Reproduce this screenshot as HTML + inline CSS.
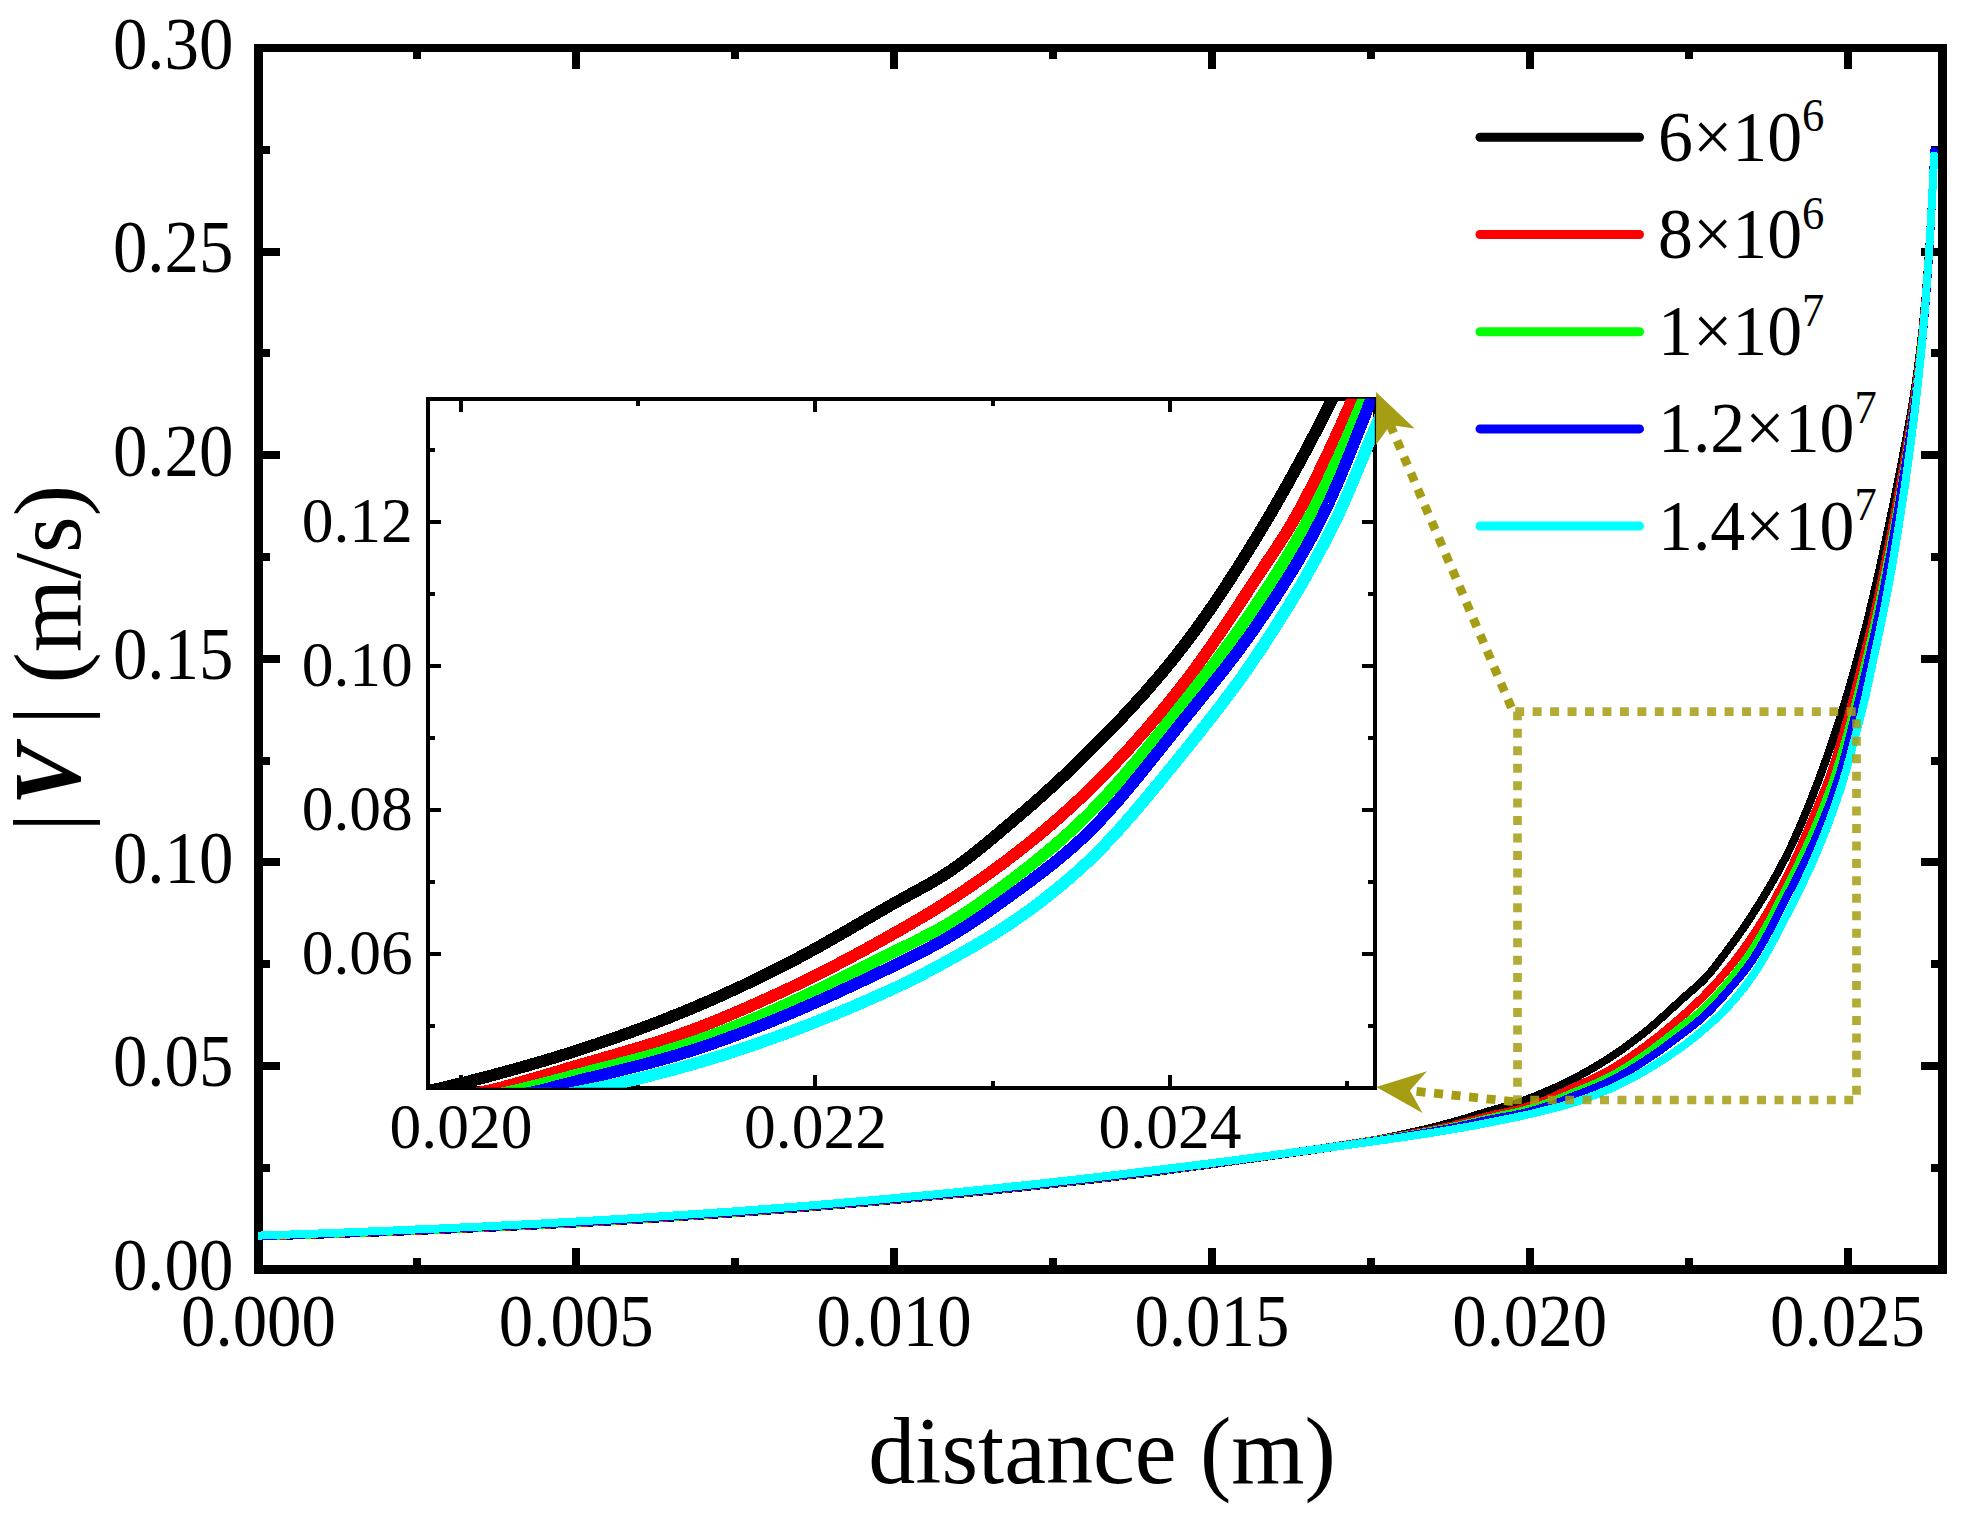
<!DOCTYPE html><html><head><meta charset="utf-8"><title>|V| versus distance</title>
<style>html,body{margin:0;padding:0;background:#fff}svg{display:block}text{font-family:"Liberation Serif","DejaVu Serif",serif;fill:#000}</style></head><body>
<svg width="1973" height="1528" viewBox="0 0 1973 1528">
<rect width="1973" height="1528" fill="#fff"/>
<defs><clipPath id="ci"><rect x="428" y="398.8" width="946.8" height="688.9"/></clipPath>
<clipPath id="cm"><rect x="258" y="48" width="1684.5" height="1221.5"/></clipPath></defs>
<g fill="#000" shape-rendering="crispEdges">
<rect x="254" y="44" width="9" height="1230"/><rect x="1938" y="44" width="9" height="1230"/>
<rect x="254" y="44" width="1693" height="8"/><rect x="254" y="1265" width="1693" height="9"/>
<rect x="413" y="52" width="8" height="7"/><rect x="413" y="1258" width="8" height="7"/>
<rect x="572" y="52" width="8" height="17"/><rect x="572" y="1248" width="8" height="17"/>
<rect x="731" y="52" width="8" height="7"/><rect x="731" y="1258" width="8" height="7"/>
<rect x="890" y="52" width="8" height="17"/><rect x="890" y="1248" width="8" height="17"/>
<rect x="1049" y="52" width="8" height="7"/><rect x="1049" y="1258" width="8" height="7"/>
<rect x="1208" y="52" width="8" height="17"/><rect x="1208" y="1248" width="8" height="17"/>
<rect x="1367" y="52" width="8" height="7"/><rect x="1367" y="1258" width="8" height="7"/>
<rect x="1526" y="52" width="8" height="17"/><rect x="1526" y="1248" width="8" height="17"/>
<rect x="1685" y="52" width="8" height="7"/><rect x="1685" y="1258" width="8" height="7"/>
<rect x="1844" y="52" width="8" height="17"/><rect x="1844" y="1248" width="8" height="17"/>
<rect x="263" y="1164" width="7" height="8"/><rect x="1931" y="1164" width="7" height="8"/>
<rect x="263" y="1062" width="17" height="8"/><rect x="1921" y="1062" width="17" height="8"/>
<rect x="263" y="960" width="7" height="8"/><rect x="1931" y="960" width="7" height="8"/>
<rect x="263" y="858" width="17" height="8"/><rect x="1921" y="858" width="17" height="8"/>
<rect x="263" y="757" width="7" height="8"/><rect x="1931" y="757" width="7" height="8"/>
<rect x="263" y="655" width="17" height="8"/><rect x="1921" y="655" width="17" height="8"/>
<rect x="263" y="553" width="7" height="8"/><rect x="1931" y="553" width="7" height="8"/>
<rect x="263" y="451" width="17" height="8"/><rect x="1921" y="451" width="17" height="8"/>
<rect x="263" y="349" width="7" height="8"/><rect x="1931" y="349" width="7" height="8"/>
<rect x="263" y="248" width="17" height="8"/><rect x="1921" y="248" width="17" height="8"/>
<rect x="263" y="146" width="7" height="8"/><rect x="1931" y="146" width="7" height="8"/>
</g>
<g fill="none" stroke-width="8" stroke-linejoin="round" stroke-linecap="round" clip-path="url(#cm)" shape-rendering="crispEdges">
<polyline stroke="#000000" points="258.5,1236.6 274.2,1236.1 289.9,1235.6 305.6,1235.1 321.3,1234.6 336.9,1234.0 352.6,1233.4 368.3,1232.9 384.0,1232.3 399.7,1231.7 415.4,1231.0 431.1,1230.4 446.8,1229.7 462.5,1229.0 478.1,1228.3 493.8,1227.6 509.5,1226.9 525.2,1226.1 540.9,1225.3 556.6,1224.5 572.3,1223.7 588.0,1222.8 603.7,1221.9 619.3,1221.0 635.0,1220.0 650.7,1219.0 666.4,1218.0 682.1,1216.9 697.8,1215.9 713.5,1214.8 729.2,1213.7 744.9,1212.5 760.5,1211.3 776.2,1210.1 791.9,1208.9 807.6,1207.6 823.3,1206.3 839.0,1205.0 854.7,1203.6 870.4,1202.3 886.1,1200.8 901.7,1199.4 917.4,1197.9 933.1,1196.4 948.8,1194.9 964.5,1193.4 980.2,1191.8 995.9,1190.2 1011.6,1188.5 1027.3,1186.9 1042.9,1185.2 1058.6,1183.4 1074.3,1181.7 1090.0,1179.9 1105.7,1178.1 1121.4,1176.2 1137.1,1174.3 1152.8,1172.4 1168.5,1170.3 1184.1,1168.1 1199.8,1166.0 1215.5,1163.8 1231.2,1161.6 1246.9,1159.4 1262.6,1157.2 1278.3,1155.0 1294.0,1152.8 1309.7,1150.6 1325.3,1148.3 1341.0,1145.9 1356.7,1143.2 1372.4,1140.4 1388.1,1137.4 1403.8,1134.1 1419.5,1130.6 1435.2,1126.8 1450.9,1122.7 1466.5,1118.1 1482.2,1113.2 1497.9,1108.6 1499.4,1108.2 1500.8,1107.8 1502.3,1107.4 1503.8,1107.0 1505.2,1106.6 1506.7,1106.1 1508.1,1105.7 1509.6,1105.3 1511.1,1104.8 1512.5,1104.4 1514.0,1103.9 1515.4,1103.5 1516.9,1103.0 1518.3,1102.5 1519.8,1102.0 1521.3,1101.5 1522.7,1101.0 1524.2,1100.5 1525.6,1099.9 1527.1,1099.4 1528.6,1098.8 1530.0,1098.2 1531.5,1097.6 1532.9,1097.1 1534.4,1096.5 1535.9,1095.9 1537.3,1095.3 1538.8,1094.7 1540.2,1094.1 1541.7,1093.5 1543.1,1092.9 1544.6,1092.2 1546.1,1091.6 1547.5,1091.0 1549.0,1090.3 1550.4,1089.7 1551.9,1089.0 1553.4,1088.4 1554.8,1087.7 1556.3,1087.1 1557.7,1086.4 1559.2,1085.7 1560.7,1085.0 1562.1,1084.3 1563.6,1083.6 1565.0,1082.9 1566.5,1082.2 1567.9,1081.5 1569.4,1080.8 1570.9,1080.0 1572.3,1079.3 1573.8,1078.5 1575.2,1077.8 1576.7,1077.0 1578.2,1076.3 1579.6,1075.5 1581.1,1074.7 1582.5,1073.9 1584.0,1073.1 1585.5,1072.3 1586.9,1071.5 1588.4,1070.7 1589.8,1069.8 1591.3,1069.0 1592.7,1068.1 1594.2,1067.3 1595.7,1066.4 1597.1,1065.6 1598.6,1064.7 1600.0,1063.8 1601.5,1062.9 1603.0,1062.0 1604.4,1061.1 1605.9,1060.2 1607.3,1059.3 1608.8,1058.3 1610.3,1057.4 1611.7,1056.4 1613.2,1055.5 1614.6,1054.5 1616.1,1053.5 1617.6,1052.5 1619.0,1051.5 1620.5,1050.5 1621.9,1049.5 1623.4,1048.4 1624.8,1047.4 1626.3,1046.3 1627.8,1045.3 1629.2,1044.2 1630.7,1043.1 1632.1,1042.0 1633.6,1040.9 1635.1,1039.8 1636.5,1038.7 1638.0,1037.6 1639.4,1036.4 1640.9,1035.3 1642.4,1034.2 1643.8,1033.0 1645.3,1031.8 1646.7,1030.7 1648.2,1029.5 1649.6,1028.3 1651.1,1027.0 1652.6,1025.8 1654.0,1024.5 1655.5,1023.3 1656.9,1022.0 1658.4,1020.7 1659.9,1019.4 1661.3,1018.1 1662.8,1016.8 1664.2,1015.5 1665.7,1014.2 1667.2,1012.9 1668.6,1011.5 1670.1,1010.2 1671.5,1008.8 1673.0,1007.5 1674.4,1006.2 1675.9,1004.8 1677.4,1003.5 1678.8,1002.1 1680.3,1000.8 1681.7,999.5 1683.2,998.1 1684.7,996.8 1686.1,995.5 1687.6,994.3 1689.0,993.0 1690.5,991.7 1692.0,990.5 1693.4,989.2 1694.9,988.0 1696.3,986.7 1697.8,985.4 1699.2,984.0 1700.7,982.7 1702.2,981.2 1703.6,979.8 1705.1,978.3 1706.5,976.7 1708.0,975.1 1709.5,973.4 1710.9,971.7 1712.4,969.9 1713.8,968.1 1715.3,966.2 1716.8,964.4 1718.2,962.5 1719.7,960.6 1721.1,958.6 1722.6,956.7 1724.1,954.8 1725.5,952.8 1727.0,950.9 1728.4,948.9 1729.9,947.0 1731.3,945.0 1732.8,943.0 1734.3,941.0 1735.7,939.0 1737.2,936.9 1738.6,934.9 1740.1,932.8 1741.6,930.7 1743.0,928.6 1744.5,926.4 1745.9,924.3 1747.4,922.1 1748.9,919.9 1750.3,917.7 1751.8,915.5 1753.2,913.2 1754.7,910.9 1756.1,908.6 1757.6,906.3 1759.1,904.0 1760.5,901.7 1762.0,899.3 1763.4,896.9 1764.9,894.6 1766.4,892.1 1767.8,889.7 1769.3,887.2 1770.7,884.7 1772.2,882.2 1773.7,879.7 1775.1,877.1 1776.6,874.5 1778.0,871.8 1779.5,869.1 1780.9,866.4 1782.4,863.6 1783.9,860.8 1785.3,858.0 1786.8,855.1 1788.2,852.1 1789.7,849.1 1791.2,846.1 1792.6,843.0 1794.1,839.8 1795.5,836.6 1797.0,833.3 1798.5,830.0 1799.9,826.6 1801.4,823.2 1802.8,819.8 1804.3,816.3 1805.7,812.7 1807.2,809.2 1808.7,805.5 1810.1,801.9 1811.6,798.2 1813.0,794.5 1814.5,790.7 1816.0,786.9 1817.4,783.1 1818.9,779.3 1820.3,775.4 1821.8,771.4 1823.3,767.4 1824.7,763.4 1826.2,759.3 1827.6,755.1 1829.1,750.9 1830.6,746.7 1832.0,742.4 1833.5,738.1 1834.9,733.7 1836.4,729.3 1837.8,724.8 1839.3,720.2 1840.8,715.6 1842.2,711.0 1843.7,706.3 1845.1,701.5 1846.6,696.6 1848.1,691.7 1849.5,686.7 1851.0,681.7 1852.4,676.6 1853.9,671.4 1855.4,666.2 1856.8,660.9 1858.3,655.5 1859.7,650.1 1861.2,644.6 1862.6,639.1 1864.1,633.5 1865.6,627.9 1867.0,622.1 1868.5,616.3 1869.9,610.3 1871.4,604.2 1872.9,598.1 1874.3,591.8 1875.8,585.5 1877.2,579.1 1878.7,572.6 1880.2,566.0 1881.6,559.4 1883.1,552.6 1884.5,545.9 1886.0,539.1 1887.4,532.3 1888.9,525.4 1890.4,518.5 1891.8,511.4 1893.3,504.4 1894.7,497.2 1896.2,490.0 1897.7,482.7 1899.1,475.4 1900.6,467.9 1902.0,460.5 1903.5,452.9 1905.0,445.3 1906.4,437.6 1907.9,429.8 1909.3,421.7 1910.8,413.5 1912.2,404.9 1913.7,395.9 1915.2,386.5 1916.6,376.5 1918.1,365.9 1919.5,354.5 1921.0,342.2 1922.5,328.9 1923.9,314.3 1925.4,298.2 1926.8,280.5 1928.3,260.8 1929.8,238.7 1931.2,213.8 1932.7,185.7 1934.1,153.8"/>
<polyline stroke="#ff0000" points="258.5,1236.4 274.2,1235.9 289.9,1235.4 305.6,1234.9 321.3,1234.3 336.9,1233.8 352.6,1233.2 368.3,1232.6 384.0,1232.0 399.7,1231.4 415.4,1230.8 431.1,1230.1 446.8,1229.4 462.5,1228.7 478.1,1228.0 493.8,1227.3 509.5,1226.6 525.2,1225.8 540.9,1225.0 556.6,1224.2 572.3,1223.4 588.0,1222.5 603.7,1221.5 619.3,1220.6 635.0,1219.6 650.7,1218.6 666.4,1217.6 682.1,1216.6 697.8,1215.5 713.5,1214.4 729.2,1213.3 744.9,1212.1 760.5,1211.0 776.2,1209.7 791.9,1208.5 807.6,1207.2 823.3,1205.9 839.0,1204.6 854.7,1203.3 870.4,1201.9 886.1,1200.5 901.7,1199.0 917.4,1197.6 933.1,1196.1 948.8,1194.6 964.5,1193.0 980.2,1191.4 995.9,1189.8 1011.6,1188.2 1027.3,1186.5 1042.9,1184.8 1058.6,1183.1 1074.3,1181.3 1090.0,1179.5 1105.7,1177.7 1121.4,1175.9 1137.1,1174.0 1152.8,1172.0 1168.5,1169.9 1184.1,1167.8 1199.8,1165.7 1215.5,1163.5 1231.2,1161.4 1246.9,1159.1 1262.6,1156.9 1278.3,1154.6 1294.0,1152.3 1309.7,1150.0 1325.3,1147.7 1341.0,1145.3 1356.7,1142.9 1372.4,1140.4 1388.1,1137.8 1403.8,1135.1 1419.5,1132.2 1435.2,1129.1 1450.9,1125.8 1466.5,1121.8 1482.2,1117.6 1497.9,1113.8 1499.4,1113.5 1500.8,1113.2 1502.3,1112.9 1503.8,1112.6 1505.2,1112.3 1506.7,1112.0 1508.1,1111.7 1509.6,1111.4 1511.1,1111.1 1512.5,1110.7 1514.0,1110.4 1515.4,1110.0 1516.9,1109.7 1518.3,1109.3 1519.8,1108.9 1521.3,1108.5 1522.7,1108.1 1524.2,1107.7 1525.6,1107.2 1527.1,1106.8 1528.6,1106.3 1530.0,1105.9 1531.5,1105.4 1532.9,1104.9 1534.4,1104.4 1535.9,1103.9 1537.3,1103.4 1538.8,1102.8 1540.2,1102.3 1541.7,1101.7 1543.1,1101.1 1544.6,1100.5 1546.1,1099.9 1547.5,1099.3 1549.0,1098.7 1550.4,1098.0 1551.9,1097.4 1553.4,1096.7 1554.8,1096.1 1556.3,1095.4 1557.7,1094.7 1559.2,1094.0 1560.7,1093.3 1562.1,1092.7 1563.6,1092.0 1565.0,1091.3 1566.5,1090.6 1567.9,1089.9 1569.4,1089.2 1570.9,1088.6 1572.3,1087.9 1573.8,1087.2 1575.2,1086.5 1576.7,1085.9 1578.2,1085.2 1579.6,1084.6 1581.1,1083.9 1582.5,1083.2 1584.0,1082.6 1585.5,1081.9 1586.9,1081.3 1588.4,1080.6 1589.8,1079.9 1591.3,1079.2 1592.7,1078.5 1594.2,1077.8 1595.7,1077.1 1597.1,1076.4 1598.6,1075.7 1600.0,1075.0 1601.5,1074.3 1603.0,1073.5 1604.4,1072.7 1605.9,1072.0 1607.3,1071.2 1608.8,1070.4 1610.3,1069.5 1611.7,1068.7 1613.2,1067.8 1614.6,1067.0 1616.1,1066.1 1617.6,1065.2 1619.0,1064.3 1620.5,1063.3 1621.9,1062.4 1623.4,1061.5 1624.8,1060.5 1626.3,1059.5 1627.8,1058.6 1629.2,1057.6 1630.7,1056.6 1632.1,1055.6 1633.6,1054.5 1635.1,1053.5 1636.5,1052.5 1638.0,1051.4 1639.4,1050.4 1640.9,1049.3 1642.4,1048.3 1643.8,1047.2 1645.3,1046.2 1646.7,1045.1 1648.2,1044.0 1649.6,1042.9 1651.1,1041.8 1652.6,1040.7 1654.0,1039.6 1655.5,1038.4 1656.9,1037.3 1658.4,1036.1 1659.9,1035.0 1661.3,1033.8 1662.8,1032.6 1664.2,1031.4 1665.7,1030.2 1667.2,1029.0 1668.6,1027.8 1670.1,1026.5 1671.5,1025.3 1673.0,1024.1 1674.4,1022.8 1675.9,1021.5 1677.4,1020.3 1678.8,1019.0 1680.3,1017.7 1681.7,1016.4 1683.2,1015.2 1684.7,1013.9 1686.1,1012.6 1687.6,1011.2 1689.0,1009.9 1690.5,1008.6 1692.0,1007.3 1693.4,1005.9 1694.9,1004.6 1696.3,1003.2 1697.8,1001.8 1699.2,1000.4 1700.7,999.0 1702.2,997.6 1703.6,996.1 1705.1,994.6 1706.5,993.1 1708.0,991.6 1709.5,990.1 1710.9,988.6 1712.4,987.0 1713.8,985.4 1715.3,983.8 1716.8,982.2 1718.2,980.6 1719.7,978.9 1721.1,977.3 1722.6,975.6 1724.1,973.9 1725.5,972.1 1727.0,970.4 1728.4,968.6 1729.9,966.8 1731.3,965.0 1732.8,963.2 1734.3,961.3 1735.7,959.4 1737.2,957.5 1738.6,955.6 1740.1,953.7 1741.6,951.7 1743.0,949.7 1744.5,947.7 1745.9,945.6 1747.4,943.6 1748.9,941.5 1750.3,939.3 1751.8,937.2 1753.2,935.0 1754.7,932.8 1756.1,930.5 1757.6,928.2 1759.1,925.9 1760.5,923.6 1762.0,921.2 1763.4,918.8 1764.9,916.4 1766.4,914.0 1767.8,911.5 1769.3,909.0 1770.7,906.4 1772.2,903.9 1773.7,901.3 1775.1,898.6 1776.6,896.0 1778.0,893.3 1779.5,890.5 1780.9,887.8 1782.4,885.0 1783.9,882.2 1785.3,879.3 1786.8,876.4 1788.2,873.5 1789.7,870.5 1791.2,867.5 1792.6,864.4 1794.1,861.3 1795.5,858.1 1797.0,854.8 1798.5,851.6 1799.9,848.2 1801.4,844.9 1802.8,841.5 1804.3,838.1 1805.7,834.6 1807.2,831.2 1808.7,827.7 1810.1,824.2 1811.6,820.7 1813.0,817.2 1814.5,813.6 1816.0,810.1 1817.4,806.6 1818.9,803.2 1820.3,799.8 1821.8,796.3 1823.3,792.8 1824.7,789.3 1826.2,785.6 1827.6,781.7 1829.1,777.7 1830.6,773.6 1832.0,769.3 1833.5,764.9 1834.9,760.4 1836.4,755.8 1837.8,751.1 1839.3,746.3 1840.8,741.5 1842.2,736.5 1843.7,731.5 1845.1,726.4 1846.6,721.3 1848.1,716.2 1849.5,711.0 1851.0,705.8 1852.4,700.5 1853.9,695.1 1855.4,689.7 1856.8,684.1 1858.3,678.5 1859.7,672.8 1861.2,667.1 1862.6,661.3 1864.1,655.5 1865.6,649.6 1867.0,643.6 1868.5,637.7 1869.9,631.6 1871.4,625.5 1872.9,619.3 1874.3,613.0 1875.8,606.5 1877.2,600.0 1878.7,593.3 1880.2,586.5 1881.6,579.6 1883.1,572.6 1884.5,565.4 1886.0,558.2 1887.4,550.9 1888.9,543.5 1890.4,536.1 1891.8,528.5 1893.3,520.8 1894.7,513.1 1896.2,505.2 1897.7,497.3 1899.1,489.2 1900.6,481.1 1902.0,472.8 1903.5,464.5 1905.0,456.1 1906.4,447.6 1907.9,439.0 1909.3,430.2 1910.8,421.2 1912.2,412.0 1913.7,402.3 1915.2,392.3 1916.6,381.8 1918.1,370.6 1919.5,358.7 1921.0,345.9 1922.5,332.1 1923.9,317.1 1925.4,300.7 1926.8,282.6 1928.3,262.5 1929.8,240.0 1931.2,214.8 1932.7,186.4 1934.1,154.1"/>
<polyline stroke="#00ff00" points="258.5,1236.3 274.2,1235.7 289.9,1235.2 305.6,1234.7 321.3,1234.1 336.9,1233.6 352.6,1233.0 368.3,1232.4 384.0,1231.8 399.7,1231.2 415.4,1230.5 431.1,1229.9 446.8,1229.2 462.5,1228.5 478.1,1227.8 493.8,1227.0 509.5,1226.3 525.2,1225.5 540.9,1224.7 556.6,1223.9 572.3,1223.0 588.0,1222.1 603.7,1221.2 619.3,1220.3 635.0,1219.3 650.7,1218.3 666.4,1217.3 682.1,1216.3 697.8,1215.2 713.5,1214.1 729.2,1213.0 744.9,1211.8 760.5,1210.6 776.2,1209.4 791.9,1208.2 807.6,1206.9 823.3,1205.6 839.0,1204.3 854.7,1202.9 870.4,1201.6 886.1,1200.2 901.7,1198.7 917.4,1197.3 933.1,1195.8 948.8,1194.2 964.5,1192.7 980.2,1191.1 995.9,1189.5 1011.6,1187.8 1027.3,1186.2 1042.9,1184.5 1058.6,1182.7 1074.3,1181.0 1090.0,1179.2 1105.7,1177.4 1121.4,1175.5 1137.1,1173.7 1152.8,1171.7 1168.5,1169.7 1184.1,1167.6 1199.8,1165.5 1215.5,1163.3 1231.2,1161.2 1246.9,1159.0 1262.6,1156.8 1278.3,1154.6 1294.0,1152.3 1309.7,1150.1 1325.3,1147.8 1341.0,1145.6 1356.7,1143.2 1372.4,1140.8 1388.1,1138.3 1403.8,1135.8 1419.5,1133.1 1435.2,1130.2 1450.9,1127.2 1466.5,1123.6 1482.2,1119.8 1497.9,1116.2 1499.4,1115.8 1500.8,1115.5 1502.3,1115.2 1503.8,1114.9 1505.2,1114.6 1506.7,1114.3 1508.1,1114.0 1509.6,1113.7 1511.1,1113.4 1512.5,1113.1 1514.0,1112.8 1515.4,1112.5 1516.9,1112.1 1518.3,1111.8 1519.8,1111.4 1521.3,1111.0 1522.7,1110.6 1524.2,1110.2 1525.6,1109.9 1527.1,1109.4 1528.6,1109.0 1530.0,1108.6 1531.5,1108.2 1532.9,1107.8 1534.4,1107.3 1535.9,1106.9 1537.3,1106.4 1538.8,1105.9 1540.2,1105.5 1541.7,1105.0 1543.1,1104.5 1544.6,1104.0 1546.1,1103.5 1547.5,1103.0 1549.0,1102.5 1550.4,1102.0 1551.9,1101.4 1553.4,1100.9 1554.8,1100.3 1556.3,1099.7 1557.7,1099.1 1559.2,1098.5 1560.7,1097.9 1562.1,1097.3 1563.6,1096.7 1565.0,1096.1 1566.5,1095.5 1567.9,1094.9 1569.4,1094.2 1570.9,1093.6 1572.3,1093.0 1573.8,1092.4 1575.2,1091.8 1576.7,1091.2 1578.2,1090.6 1579.6,1090.1 1581.1,1089.5 1582.5,1088.9 1584.0,1088.3 1585.5,1087.7 1586.9,1087.1 1588.4,1086.5 1589.8,1085.9 1591.3,1085.3 1592.7,1084.7 1594.2,1084.0 1595.7,1083.4 1597.1,1082.8 1598.6,1082.1 1600.0,1081.5 1601.5,1080.8 1603.0,1080.1 1604.4,1079.4 1605.9,1078.7 1607.3,1078.0 1608.8,1077.2 1610.3,1076.5 1611.7,1075.7 1613.2,1074.9 1614.6,1074.1 1616.1,1073.3 1617.6,1072.5 1619.0,1071.6 1620.5,1070.8 1621.9,1069.9 1623.4,1069.0 1624.8,1068.1 1626.3,1067.2 1627.8,1066.3 1629.2,1065.4 1630.7,1064.5 1632.1,1063.5 1633.6,1062.5 1635.1,1061.6 1636.5,1060.6 1638.0,1059.6 1639.4,1058.6 1640.9,1057.6 1642.4,1056.6 1643.8,1055.5 1645.3,1054.5 1646.7,1053.4 1648.2,1052.4 1649.6,1051.3 1651.1,1050.3 1652.6,1049.2 1654.0,1048.1 1655.5,1047.0 1656.9,1045.9 1658.4,1044.8 1659.9,1043.7 1661.3,1042.6 1662.8,1041.4 1664.2,1040.3 1665.7,1039.2 1667.2,1038.0 1668.6,1036.9 1670.1,1035.8 1671.5,1034.6 1673.0,1033.5 1674.4,1032.3 1675.9,1031.2 1677.4,1030.0 1678.8,1028.9 1680.3,1027.7 1681.7,1026.6 1683.2,1025.4 1684.7,1024.3 1686.1,1023.1 1687.6,1022.0 1689.0,1020.9 1690.5,1019.7 1692.0,1018.6 1693.4,1017.4 1694.9,1016.3 1696.3,1015.1 1697.8,1013.9 1699.2,1012.6 1700.7,1011.4 1702.2,1010.1 1703.6,1008.8 1705.1,1007.4 1706.5,1006.0 1708.0,1004.6 1709.5,1003.1 1710.9,1001.6 1712.4,1000.1 1713.8,998.6 1715.3,997.0 1716.8,995.4 1718.2,993.7 1719.7,992.1 1721.1,990.4 1722.6,988.7 1724.1,987.0 1725.5,985.2 1727.0,983.5 1728.4,981.7 1729.9,980.0 1731.3,978.2 1732.8,976.4 1734.3,974.6 1735.7,972.7 1737.2,970.9 1738.6,969.0 1740.1,967.0 1741.6,965.1 1743.0,963.1 1744.5,961.1 1745.9,959.1 1747.4,957.0 1748.9,954.9 1750.3,952.8 1751.8,950.6 1753.2,948.3 1754.7,946.1 1756.1,943.7 1757.6,941.4 1759.1,939.0 1760.5,936.5 1762.0,934.0 1763.4,931.5 1764.9,928.9 1766.4,926.3 1767.8,923.6 1769.3,921.0 1770.7,918.3 1772.2,915.5 1773.7,912.8 1775.1,910.0 1776.6,907.2 1778.0,904.3 1779.5,901.5 1780.9,898.6 1782.4,895.8 1783.9,892.9 1785.3,890.0 1786.8,887.1 1788.2,884.2 1789.7,881.3 1791.2,878.4 1792.6,875.5 1794.1,872.5 1795.5,869.6 1797.0,866.6 1798.5,863.6 1799.9,860.6 1801.4,857.5 1802.8,854.4 1804.3,851.3 1805.7,848.2 1807.2,845.0 1808.7,841.8 1810.1,838.5 1811.6,835.2 1813.0,831.9 1814.5,828.5 1816.0,825.1 1817.4,821.6 1818.9,818.0 1820.3,814.5 1821.8,810.9 1823.3,807.2 1824.7,803.5 1826.2,799.7 1827.6,795.9 1829.1,791.9 1830.6,787.9 1832.0,783.8 1833.5,779.5 1834.9,775.1 1836.4,770.7 1837.8,766.1 1839.3,761.3 1840.8,756.5 1842.2,751.6 1843.7,746.6 1845.1,741.5 1846.6,736.3 1848.1,731.1 1849.5,725.8 1851.0,720.4 1852.4,715.0 1853.9,709.5 1855.4,704.0 1856.8,698.3 1858.3,692.5 1859.7,686.7 1861.2,680.8 1862.6,674.8 1864.1,668.7 1865.6,662.6 1867.0,656.4 1868.5,650.2 1869.9,644.0 1871.4,637.7 1872.9,631.4 1874.3,625.0 1875.8,618.4 1877.2,611.8 1878.7,605.0 1880.2,598.2 1881.6,591.2 1883.1,584.0 1884.5,576.8 1886.0,569.4 1887.4,562.0 1888.9,554.5 1890.4,546.9 1891.8,539.2 1893.3,531.3 1894.7,523.4 1896.2,515.3 1897.7,507.2 1899.1,498.9 1900.6,490.5 1902.0,482.0 1903.5,473.3 1905.0,464.6 1906.4,455.8 1907.9,446.8 1909.3,437.6 1910.8,428.3 1912.2,418.7 1913.7,408.7 1915.2,398.3 1916.6,387.4 1918.1,375.9 1919.5,363.6 1921.0,350.4 1922.5,336.2 1923.9,320.7 1925.4,303.7 1926.8,285.0 1928.3,264.3 1929.8,241.1 1931.2,215.1 1932.7,185.7 1934.1,152.3"/>
<polyline stroke="#0000ff" points="258.5,1236.1 274.2,1235.6 289.9,1235.1 305.6,1234.5 321.3,1234.0 336.9,1233.4 352.6,1232.8 368.3,1232.2 384.0,1231.6 399.7,1231.0 415.4,1230.3 431.1,1229.6 446.8,1229.0 462.5,1228.2 478.1,1227.5 493.8,1226.8 509.5,1226.0 525.2,1225.2 540.9,1224.4 556.6,1223.6 572.3,1222.7 588.0,1221.9 603.7,1220.9 619.3,1220.0 635.0,1219.0 650.7,1218.0 666.4,1217.0 682.1,1216.0 697.8,1214.9 713.5,1213.8 729.2,1212.7 744.9,1211.5 760.5,1210.3 776.2,1209.1 791.9,1207.9 807.6,1206.6 823.3,1205.3 839.0,1204.0 854.7,1202.7 870.4,1201.3 886.1,1199.9 901.7,1198.4 917.4,1197.0 933.1,1195.5 948.8,1193.9 964.5,1192.4 980.2,1190.8 995.9,1189.2 1011.6,1187.6 1027.3,1185.9 1042.9,1184.2 1058.6,1182.5 1074.3,1180.7 1090.0,1178.9 1105.7,1177.1 1121.4,1175.2 1137.1,1173.4 1152.8,1171.4 1168.5,1169.4 1184.1,1167.4 1199.8,1165.3 1215.5,1163.2 1231.2,1161.0 1246.9,1158.9 1262.6,1156.7 1278.3,1154.5 1294.0,1152.3 1309.7,1150.1 1325.3,1147.9 1341.0,1145.7 1356.7,1143.5 1372.4,1141.2 1388.1,1138.8 1403.8,1136.3 1419.5,1133.7 1435.2,1131.0 1450.9,1128.1 1466.5,1124.7 1482.2,1121.2 1497.9,1118.0 1499.4,1117.8 1500.8,1117.5 1502.3,1117.3 1503.8,1117.0 1505.2,1116.8 1506.7,1116.5 1508.1,1116.3 1509.6,1116.0 1511.1,1115.7 1512.5,1115.4 1514.0,1115.1 1515.4,1114.8 1516.9,1114.5 1518.3,1114.2 1519.8,1113.9 1521.3,1113.5 1522.7,1113.2 1524.2,1112.8 1525.6,1112.5 1527.1,1112.1 1528.6,1111.7 1530.0,1111.3 1531.5,1110.9 1532.9,1110.5 1534.4,1110.1 1535.9,1109.7 1537.3,1109.2 1538.8,1108.8 1540.2,1108.4 1541.7,1107.9 1543.1,1107.5 1544.6,1107.0 1546.1,1106.5 1547.5,1106.0 1549.0,1105.6 1550.4,1105.1 1551.9,1104.6 1553.4,1104.1 1554.8,1103.6 1556.3,1103.1 1557.7,1102.5 1559.2,1102.0 1560.7,1101.4 1562.1,1100.8 1563.6,1100.2 1565.0,1099.6 1566.5,1099.0 1567.9,1098.4 1569.4,1097.8 1570.9,1097.2 1572.3,1096.6 1573.8,1096.1 1575.2,1095.5 1576.7,1094.9 1578.2,1094.3 1579.6,1093.8 1581.1,1093.2 1582.5,1092.6 1584.0,1092.1 1585.5,1091.5 1586.9,1090.9 1588.4,1090.4 1589.8,1089.8 1591.3,1089.2 1592.7,1088.6 1594.2,1088.0 1595.7,1087.4 1597.1,1086.8 1598.6,1086.2 1600.0,1085.6 1601.5,1085.0 1603.0,1084.3 1604.4,1083.7 1605.9,1083.0 1607.3,1082.3 1608.8,1081.6 1610.3,1080.9 1611.7,1080.1 1613.2,1079.4 1614.6,1078.7 1616.1,1077.9 1617.6,1077.1 1619.0,1076.3 1620.5,1075.5 1621.9,1074.7 1623.4,1073.9 1624.8,1073.1 1626.3,1072.3 1627.8,1071.4 1629.2,1070.6 1630.7,1069.7 1632.1,1068.8 1633.6,1067.9 1635.1,1067.0 1636.5,1066.1 1638.0,1065.2 1639.4,1064.3 1640.9,1063.3 1642.4,1062.4 1643.8,1061.5 1645.3,1060.5 1646.7,1059.5 1648.2,1058.5 1649.6,1057.6 1651.1,1056.6 1652.6,1055.6 1654.0,1054.6 1655.5,1053.5 1656.9,1052.5 1658.4,1051.5 1659.9,1050.5 1661.3,1049.4 1662.8,1048.4 1664.2,1047.3 1665.7,1046.3 1667.2,1045.2 1668.6,1044.1 1670.1,1043.0 1671.5,1042.0 1673.0,1040.9 1674.4,1039.8 1675.9,1038.7 1677.4,1037.6 1678.8,1036.5 1680.3,1035.4 1681.7,1034.3 1683.2,1033.2 1684.7,1032.0 1686.1,1030.9 1687.6,1029.8 1689.0,1028.7 1690.5,1027.5 1692.0,1026.4 1693.4,1025.2 1694.9,1024.0 1696.3,1022.8 1697.8,1021.6 1699.2,1020.4 1700.7,1019.1 1702.2,1017.8 1703.6,1016.5 1705.1,1015.2 1706.5,1013.8 1708.0,1012.4 1709.5,1011.0 1710.9,1009.5 1712.4,1008.0 1713.8,1006.5 1715.3,1004.9 1716.8,1003.4 1718.2,1001.8 1719.7,1000.2 1721.1,998.6 1722.6,996.9 1724.1,995.3 1725.5,993.6 1727.0,991.9 1728.4,990.3 1729.9,988.6 1731.3,986.9 1732.8,985.2 1734.3,983.5 1735.7,981.8 1737.2,980.0 1738.6,978.3 1740.1,976.5 1741.6,974.7 1743.0,972.8 1744.5,970.9 1745.9,969.0 1747.4,967.0 1748.9,965.0 1750.3,963.0 1751.8,960.9 1753.2,958.7 1754.7,956.5 1756.1,954.2 1757.6,951.8 1759.1,949.4 1760.5,946.9 1762.0,944.4 1763.4,941.8 1764.9,939.2 1766.4,936.6 1767.8,933.9 1769.3,931.1 1770.7,928.4 1772.2,925.6 1773.7,922.7 1775.1,919.9 1776.6,917.0 1778.0,914.1 1779.5,911.3 1780.9,908.4 1782.4,905.5 1783.9,902.6 1785.3,899.7 1786.8,896.8 1788.2,894.0 1789.7,891.1 1791.2,888.3 1792.6,885.4 1794.1,882.6 1795.5,879.8 1797.0,876.9 1798.5,874.0 1799.9,871.2 1801.4,868.2 1802.8,865.3 1804.3,862.4 1805.7,859.4 1807.2,856.3 1808.7,853.3 1810.1,850.2 1811.6,847.0 1813.0,843.8 1814.5,840.5 1816.0,837.1 1817.4,833.7 1818.9,830.3 1820.3,826.9 1821.8,823.4 1823.3,819.8 1824.7,816.2 1826.2,812.6 1827.6,808.8 1829.1,805.0 1830.6,801.1 1832.0,797.1 1833.5,793.0 1834.9,788.8 1836.4,784.5 1837.8,780.0 1839.3,775.3 1840.8,770.4 1842.2,765.4 1843.7,760.1 1845.1,754.7 1846.6,749.2 1848.1,743.6 1849.5,737.8 1851.0,732.1 1852.4,726.2 1853.9,720.3 1855.4,714.5 1856.8,708.6 1858.3,702.7 1859.7,696.8 1861.2,690.8 1862.6,684.7 1864.1,678.6 1865.6,672.4 1867.0,666.1 1868.5,659.9 1869.9,653.7 1871.4,647.4 1872.9,641.0 1874.3,634.5 1875.8,627.9 1877.2,621.2 1878.7,614.3 1880.2,607.2 1881.6,600.0 1883.1,592.6 1884.5,585.0 1886.0,577.3 1887.4,569.5 1888.9,561.6 1890.4,553.6 1891.8,545.5 1893.3,537.3 1894.7,528.9 1896.2,520.5 1897.7,511.9 1899.1,503.3 1900.6,494.5 1902.0,485.6 1903.5,476.7 1905.0,467.7 1906.4,458.6 1907.9,449.4 1909.3,440.1 1910.8,430.6 1912.2,421.0 1913.7,411.0 1915.2,400.7 1916.6,389.9 1918.1,378.5 1919.5,366.4 1921.0,353.3 1922.5,339.2 1923.9,323.8 1925.4,306.8 1926.8,288.0 1928.3,267.0 1929.8,243.4 1931.2,216.6 1932.7,186.1 1934.1,151.0"/>
<polyline stroke="#00ffff" points="258.5,1235.6 274.2,1235.1 289.9,1234.5 305.6,1233.9 321.3,1233.4 336.9,1232.8 352.6,1232.2 368.3,1231.5 384.0,1230.9 399.7,1230.2 415.4,1229.5 431.1,1228.9 446.8,1228.1 462.5,1227.4 478.1,1226.7 493.8,1225.9 509.5,1225.1 525.2,1224.3 540.9,1223.5 556.6,1222.6 572.3,1221.7 588.0,1220.8 603.7,1219.9 619.3,1219.0 635.0,1218.0 650.7,1217.0 666.4,1216.0 682.1,1214.9 697.8,1213.9 713.5,1212.8 729.2,1211.7 744.9,1210.5 760.5,1209.3 776.2,1208.1 791.9,1206.9 807.6,1205.6 823.3,1204.3 839.0,1203.0 854.7,1201.6 870.4,1200.3 886.1,1198.9 901.7,1197.4 917.4,1195.9 933.1,1194.5 948.8,1192.9 964.5,1191.4 980.2,1189.8 995.9,1188.2 1011.6,1186.5 1027.3,1184.9 1042.9,1183.2 1058.6,1181.4 1074.3,1179.7 1090.0,1177.9 1105.7,1176.1 1121.4,1174.2 1137.1,1172.3 1152.8,1170.4 1168.5,1168.5 1184.1,1166.6 1199.8,1164.6 1215.5,1162.6 1231.2,1160.6 1246.9,1158.5 1262.6,1156.5 1278.3,1154.4 1294.0,1152.3 1309.7,1150.2 1325.3,1148.1 1341.0,1145.9 1356.7,1143.8 1372.4,1141.6 1388.1,1139.4 1403.8,1137.1 1419.5,1134.7 1435.2,1132.3 1450.9,1129.7 1466.5,1127.0 1482.2,1124.0 1497.9,1120.9 1499.4,1120.6 1500.8,1120.3 1502.3,1120.0 1503.8,1119.7 1505.2,1119.4 1506.7,1119.1 1508.1,1118.8 1509.6,1118.5 1511.1,1118.2 1512.5,1117.9 1514.0,1117.6 1515.4,1117.3 1516.9,1117.0 1518.3,1116.7 1519.8,1116.3 1521.3,1116.0 1522.7,1115.7 1524.2,1115.4 1525.6,1115.0 1527.1,1114.7 1528.6,1114.4 1530.0,1114.0 1531.5,1113.7 1532.9,1113.4 1534.4,1113.0 1535.9,1112.7 1537.3,1112.4 1538.8,1112.0 1540.2,1111.7 1541.7,1111.3 1543.1,1111.0 1544.6,1110.6 1546.1,1110.2 1547.5,1109.9 1549.0,1109.5 1550.4,1109.1 1551.9,1108.8 1553.4,1108.4 1554.8,1108.0 1556.3,1107.6 1557.7,1107.2 1559.2,1106.8 1560.7,1106.4 1562.1,1106.0 1563.6,1105.6 1565.0,1105.2 1566.5,1104.7 1567.9,1104.3 1569.4,1103.9 1570.9,1103.4 1572.3,1103.0 1573.8,1102.5 1575.2,1102.0 1576.7,1101.6 1578.2,1101.1 1579.6,1100.6 1581.1,1100.1 1582.5,1099.6 1584.0,1099.1 1585.5,1098.6 1586.9,1098.1 1588.4,1097.5 1589.8,1097.0 1591.3,1096.4 1592.7,1095.9 1594.2,1095.3 1595.7,1094.8 1597.1,1094.2 1598.6,1093.6 1600.0,1093.0 1601.5,1092.4 1603.0,1091.8 1604.4,1091.2 1605.9,1090.6 1607.3,1089.9 1608.8,1089.3 1610.3,1088.7 1611.7,1088.0 1613.2,1087.4 1614.6,1086.7 1616.1,1086.0 1617.6,1085.3 1619.0,1084.6 1620.5,1083.9 1621.9,1083.2 1623.4,1082.5 1624.8,1081.8 1626.3,1081.0 1627.8,1080.3 1629.2,1079.5 1630.7,1078.7 1632.1,1078.0 1633.6,1077.2 1635.1,1076.4 1636.5,1075.6 1638.0,1074.8 1639.4,1074.0 1640.9,1073.2 1642.4,1072.3 1643.8,1071.5 1645.3,1070.6 1646.7,1069.8 1648.2,1068.9 1649.6,1068.1 1651.1,1067.2 1652.6,1066.3 1654.0,1065.4 1655.5,1064.5 1656.9,1063.6 1658.4,1062.7 1659.9,1061.7 1661.3,1060.8 1662.8,1059.9 1664.2,1058.9 1665.7,1058.0 1667.2,1057.0 1668.6,1056.0 1670.1,1055.0 1671.5,1054.1 1673.0,1053.1 1674.4,1052.1 1675.9,1051.1 1677.4,1050.0 1678.8,1049.0 1680.3,1048.0 1681.7,1047.0 1683.2,1045.9 1684.7,1044.9 1686.1,1043.8 1687.6,1042.7 1689.0,1041.6 1690.5,1040.5 1692.0,1039.3 1693.4,1038.1 1694.9,1037.0 1696.3,1035.8 1697.8,1034.6 1699.2,1033.3 1700.7,1032.1 1702.2,1030.9 1703.6,1029.6 1705.1,1028.3 1706.5,1027.1 1708.0,1025.8 1709.5,1024.5 1710.9,1023.2 1712.4,1021.9 1713.8,1020.6 1715.3,1019.2 1716.8,1017.9 1718.2,1016.5 1719.7,1015.1 1721.1,1013.6 1722.6,1012.2 1724.1,1010.7 1725.5,1009.2 1727.0,1007.6 1728.4,1006.1 1729.9,1004.5 1731.3,1002.9 1732.8,1001.2 1734.3,999.5 1735.7,997.8 1737.2,996.1 1738.6,994.3 1740.1,992.5 1741.6,990.7 1743.0,988.9 1744.5,987.0 1745.9,985.0 1747.4,983.1 1748.9,981.1 1750.3,979.1 1751.8,977.0 1753.2,974.9 1754.7,972.7 1756.1,970.5 1757.6,968.2 1759.1,965.9 1760.5,963.5 1762.0,961.1 1763.4,958.6 1764.9,956.1 1766.4,953.6 1767.8,951.0 1769.3,948.3 1770.7,945.7 1772.2,943.0 1773.7,940.3 1775.1,937.6 1776.6,934.8 1778.0,932.0 1779.5,929.2 1780.9,926.4 1782.4,923.6 1783.9,920.7 1785.3,917.9 1786.8,915.1 1788.2,912.2 1789.7,909.4 1791.2,906.5 1792.6,903.7 1794.1,900.8 1795.5,897.9 1797.0,895.0 1798.5,892.1 1799.9,889.1 1801.4,886.1 1802.8,883.1 1804.3,880.1 1805.7,877.0 1807.2,873.9 1808.7,870.7 1810.1,867.5 1811.6,864.3 1813.0,861.0 1814.5,857.6 1816.0,854.2 1817.4,850.7 1818.9,847.2 1820.3,843.7 1821.8,840.1 1823.3,836.4 1824.7,832.8 1826.2,829.1 1827.6,825.3 1829.1,821.4 1830.6,817.5 1832.0,813.6 1833.5,809.5 1834.9,805.4 1836.4,801.2 1837.8,796.9 1839.3,792.6 1840.8,788.1 1842.2,783.5 1843.7,778.8 1845.1,773.9 1846.6,768.8 1848.1,763.5 1849.5,758.1 1851.0,752.6 1852.4,747.0 1853.9,741.4 1855.4,735.8 1856.8,730.3 1858.3,724.9 1859.7,719.7 1861.2,714.3 1862.6,708.5 1864.1,702.3 1865.6,695.8 1867.0,689.1 1868.5,682.2 1869.9,675.4 1871.4,668.6 1872.9,661.9 1874.3,655.2 1875.8,648.6 1877.2,641.9 1878.7,635.2 1880.2,628.4 1881.6,621.4 1883.1,614.3 1884.5,607.0 1886.0,599.6 1887.4,591.8 1888.9,583.8 1890.4,575.7 1891.8,567.5 1893.3,559.0 1894.7,550.4 1896.2,541.7 1897.7,532.7 1899.1,523.6 1900.6,514.2 1902.0,504.7 1903.5,494.9 1905.0,485.0 1906.4,474.8 1907.9,464.3 1909.3,453.7 1910.8,442.7 1912.2,431.5 1913.7,419.9 1915.2,407.8 1916.6,395.3 1918.1,382.1 1919.5,368.3 1921.0,353.7 1922.5,338.2 1923.9,321.6 1925.4,303.7 1926.8,284.3 1928.3,263.3 1929.8,240.3 1931.2,214.9 1932.7,186.8 1934.1,155.5"/>
</g>
<text transform="translate(233.5,1290.0) scale(0.925,1)" font-size="74.5" text-anchor="end">0.00</text>
<text transform="translate(233.5,1086.4) scale(0.925,1)" font-size="74.5" text-anchor="end">0.05</text>
<text transform="translate(233.5,882.8) scale(0.925,1)" font-size="74.5" text-anchor="end">0.10</text>
<text transform="translate(233.5,679.3) scale(0.925,1)" font-size="74.5" text-anchor="end">0.15</text>
<text transform="translate(233.5,475.7) scale(0.925,1)" font-size="74.5" text-anchor="end">0.20</text>
<text transform="translate(233.5,272.1) scale(0.925,1)" font-size="74.5" text-anchor="end">0.25</text>
<text transform="translate(233.5,68.5) scale(0.925,1)" font-size="74.5" text-anchor="end">0.30</text>
<text transform="translate(258.5,1345.5) scale(0.925,1)" font-size="74.5" text-anchor="middle">0.000</text>
<text transform="translate(576.3,1345.5) scale(0.925,1)" font-size="74.5" text-anchor="middle">0.005</text>
<text transform="translate(894.1,1345.5) scale(0.925,1)" font-size="74.5" text-anchor="middle">0.010</text>
<text transform="translate(1211.9,1345.5) scale(0.925,1)" font-size="74.5" text-anchor="middle">0.015</text>
<text transform="translate(1529.7,1345.5) scale(0.925,1)" font-size="74.5" text-anchor="middle">0.020</text>
<text transform="translate(1847.5,1345.5) scale(0.925,1)" font-size="74.5" text-anchor="middle">0.025</text>
<text transform="translate(1102.0,1482.5) scale(0.98,1)" font-size="96" text-anchor="middle">distance (m)</text>
<g transform="translate(79.7,0) rotate(-90)">
<text transform="translate(-832.0,0.0) scale(1.0,1)" font-size="96" text-anchor="start">|</text>
<text transform="translate(-805.0,0.0) scale(0.94,1)" font-size="96" text-anchor="start" font-weight="bold" font-style="italic">V</text>
<text transform="translate(-725.0,0.0) scale(1.0,1)" font-size="96" text-anchor="start">|</text>
<text transform="translate(-683.6,0.0) scale(0.98,1)" font-size="96" text-anchor="start">(m/s)</text>
</g>
<line x1="1480" y1="137.3" x2="1639.5" y2="137.3" stroke="#000000" stroke-width="9" stroke-linecap="round"/>
<text transform="translate(1658.0,160.7) scale(0.97,1)" font-size="72" text-anchor="start">6×10<tspan font-size="46" dy="-29.4">6</tspan></text>
<line x1="1480" y1="234.5" x2="1639.5" y2="234.5" stroke="#ff0000" stroke-width="9" stroke-linecap="round"/>
<text transform="translate(1658.0,257.9) scale(0.97,1)" font-size="72" text-anchor="start">8×10<tspan font-size="46" dy="-29.4">6</tspan></text>
<line x1="1480" y1="331.7" x2="1639.5" y2="331.7" stroke="#00ff00" stroke-width="9" stroke-linecap="round"/>
<text transform="translate(1658.0,355.1) scale(0.97,1)" font-size="72" text-anchor="start">1×10<tspan font-size="46" dy="-29.4">7</tspan></text>
<line x1="1480" y1="428.9" x2="1639.5" y2="428.9" stroke="#0000ff" stroke-width="9" stroke-linecap="round"/>
<text transform="translate(1658.0,452.3) scale(0.97,1)" font-size="72" text-anchor="start">1.2×10<tspan font-size="46" dy="-29.4">7</tspan></text>
<line x1="1480" y1="526.1" x2="1639.5" y2="526.1" stroke="#00ffff" stroke-width="9" stroke-linecap="round"/>
<text transform="translate(1658.0,549.5) scale(0.97,1)" font-size="72" text-anchor="start">1.4×10<tspan font-size="46" dy="-29.4">7</tspan></text>
<path d="M1515.2,711.6 H1856.5 V1100 H1517.5 V711.6" fill="none" stroke="#a59d14" stroke-opacity="0.85" stroke-width="8.7" stroke-dasharray="9 8.45"/>
<g fill="#000" shape-rendering="crispEdges">
<rect x="426" y="397" width="4" height="693"/><rect x="1373" y="397" width="4" height="693"/>
<rect x="426" y="397" width="951" height="4"/><rect x="426" y="1086" width="951" height="4"/>
<rect x="459" y="401" width="4" height="11"/><rect x="459" y="1075" width="4" height="11"/>
<rect x="636" y="401" width="4" height="5"/><rect x="636" y="1081" width="4" height="5"/>
<rect x="813" y="401" width="4" height="11"/><rect x="813" y="1075" width="4" height="11"/>
<rect x="991" y="401" width="4" height="5"/><rect x="991" y="1081" width="4" height="5"/>
<rect x="1168" y="401" width="4" height="11"/><rect x="1168" y="1075" width="4" height="11"/>
<rect x="1345" y="401" width="4" height="5"/><rect x="1345" y="1081" width="4" height="5"/>
<rect x="430" y="1024" width="5" height="4"/><rect x="1368" y="1024" width="5" height="4"/>
<rect x="430" y="952" width="11" height="4"/><rect x="1362" y="952" width="11" height="4"/>
<rect x="430" y="880" width="5" height="4"/><rect x="1368" y="880" width="5" height="4"/>
<rect x="430" y="808" width="11" height="4"/><rect x="1362" y="808" width="11" height="4"/>
<rect x="430" y="736" width="5" height="4"/><rect x="1368" y="736" width="5" height="4"/>
<rect x="430" y="664" width="11" height="4"/><rect x="1362" y="664" width="11" height="4"/>
<rect x="430" y="592" width="5" height="4"/><rect x="1368" y="592" width="5" height="4"/>
<rect x="430" y="520" width="11" height="4"/><rect x="1362" y="520" width="11" height="4"/>
<rect x="430" y="448" width="5" height="4"/><rect x="1368" y="448" width="5" height="4"/>
</g>
<g fill="none" stroke-width="12" stroke-linejoin="round" clip-path="url(#ci)" shape-rendering="crispEdges">
<polyline stroke="#000000" points="284.9,1118.3 328.6,1109.6 372.4,1101.5 376.4,1100.7 380.5,1100.0 384.6,1099.3 388.6,1098.6 392.7,1097.9 396.8,1097.1 400.9,1096.4 404.9,1095.6 409.0,1094.8 413.1,1094.0 417.1,1093.2 421.2,1092.4 425.3,1091.6 429.3,1090.7 433.4,1089.8 437.5,1088.9 441.5,1088.0 445.6,1087.1 449.7,1086.1 453.7,1085.1 457.8,1084.1 461.9,1083.1 465.9,1082.1 470.0,1081.1 474.1,1080.0 478.2,1079.0 482.2,1077.9 486.3,1076.9 490.4,1075.8 494.4,1074.7 498.5,1073.6 502.6,1072.5 506.6,1071.4 510.7,1070.3 514.8,1069.2 518.8,1068.0 522.9,1066.9 527.0,1065.7 531.0,1064.5 535.1,1063.4 539.2,1062.2 543.2,1061.0 547.3,1059.8 551.4,1058.5 555.5,1057.3 559.5,1056.1 563.6,1054.8 567.7,1053.5 571.7,1052.2 575.8,1050.9 579.9,1049.6 583.9,1048.3 588.0,1047.0 592.1,1045.6 596.1,1044.3 600.2,1042.9 604.3,1041.5 608.3,1040.1 612.4,1038.7 616.5,1037.3 620.6,1035.8 624.6,1034.4 628.7,1032.9 632.8,1031.4 636.8,1029.9 640.9,1028.4 645.0,1026.9 649.0,1025.4 653.1,1023.8 657.2,1022.3 661.2,1020.7 665.3,1019.1 669.4,1017.5 673.4,1015.8 677.5,1014.2 681.6,1012.6 685.6,1010.9 689.7,1009.2 693.8,1007.5 697.9,1005.8 701.9,1004.0 706.0,1002.3 710.1,1000.5 714.1,998.7 718.2,996.9 722.3,995.1 726.3,993.2 730.4,991.3 734.5,989.5 738.5,987.6 742.6,985.7 746.7,983.7 750.7,981.8 754.8,979.8 758.9,977.9 762.9,975.9 767.0,973.9 771.1,971.9 775.2,969.8 779.2,967.8 783.3,965.7 787.4,963.6 791.4,961.5 795.5,959.4 799.6,957.2 803.6,955.0 807.7,952.8 811.8,950.6 815.8,948.4 819.9,946.1 824.0,943.8 828.0,941.5 832.1,939.2 836.2,936.8 840.2,934.5 844.3,932.2 848.4,929.8 852.5,927.4 856.5,925.1 860.6,922.7 864.7,920.3 868.7,917.9 872.8,915.6 876.9,913.2 880.9,910.8 885.0,908.5 889.1,906.1 893.1,903.8 897.2,901.5 901.3,899.3 905.3,897.0 909.4,894.8 913.5,892.6 917.5,890.4 921.6,888.1 925.7,885.9 929.8,883.6 933.8,881.2 937.9,878.8 942.0,876.3 946.0,873.7 950.1,871.0 954.2,868.2 958.2,865.3 962.3,862.4 966.4,859.3 970.4,856.2 974.5,853.0 978.6,849.7 982.6,846.4 986.7,843.1 990.8,839.7 994.8,836.3 998.9,832.9 1003.0,829.4 1007.1,826.0 1011.1,822.6 1015.2,819.1 1019.3,815.6 1023.3,812.2 1027.4,808.6 1031.5,805.1 1035.5,801.5 1039.6,797.9 1043.7,794.3 1047.7,790.6 1051.8,786.9 1055.9,783.1 1059.9,779.4 1064.0,775.6 1068.1,771.7 1072.1,767.8 1076.2,763.9 1080.3,759.9 1084.4,755.9 1088.4,751.9 1092.5,747.9 1096.6,743.8 1100.6,739.7 1104.7,735.6 1108.8,731.4 1112.8,727.2 1116.9,723.0 1121.0,718.7 1125.0,714.4 1129.1,710.0 1133.2,705.6 1137.2,701.1 1141.3,696.6 1145.4,692.1 1149.4,687.4 1153.5,682.7 1157.6,678.0 1161.7,673.2 1165.7,668.3 1169.8,663.3 1173.9,658.3 1177.9,653.1 1182.0,647.9 1186.1,642.6 1190.1,637.2 1194.2,631.7 1198.3,626.1 1202.3,620.4 1206.4,614.7 1210.5,608.8 1214.5,602.9 1218.6,596.8 1222.7,590.7 1226.7,584.6 1230.8,578.3 1234.9,572.0 1239.0,565.6 1243.0,559.1 1247.1,552.6 1251.2,546.0 1255.2,539.4 1259.3,532.7 1263.4,525.9 1267.4,519.1 1271.5,512.2 1275.6,505.2 1279.6,498.1 1283.7,491.0 1287.8,483.7 1291.8,476.4 1295.9,469.0 1300.0,461.5 1304.1,453.9 1308.1,446.3 1312.2,438.5 1316.3,430.7 1320.3,422.7 1324.4,414.7 1328.5,406.6 1332.5,398.3 1336.6,390.0 1340.7,381.5 1344.7,373.0 1348.8,364.3 1352.9,355.5 1356.9,346.5 1361.0,337.5 1365.1,328.4 1369.1,319.1 1373.2,309.7 1377.3,300.2 1381.4,290.7 1385.4,281.0 1389.5,271.2 1393.6,261.4 1397.6,251.4 1401.7,241.2 1405.8,230.8 1409.8,220.3 1413.9,209.5 1418.0,198.7 1422.0,187.6 1426.1,176.5 1430.2,165.1 1434.2,153.6 1438.3,142.0 1442.4,130.2 1446.4,118.4 1450.5,106.4 1454.6,94.3 1458.7,82.3 1462.7,70.2 1466.8,57.9 1470.9,45.5 1474.9,33.0 1479.0,20.3 1483.1,7.5 1487.1,-5.3"/>
<polyline stroke="#ff0000" points="284.9,1124.9 328.6,1117.4 372.4,1110.7 376.4,1110.2 380.5,1109.6 384.6,1109.1 388.6,1108.6 392.7,1108.0 396.8,1107.5 400.9,1106.9 404.9,1106.4 409.0,1105.8 413.1,1105.2 417.1,1104.6 421.2,1104.0 425.3,1103.4 429.3,1102.7 433.4,1102.0 437.5,1101.3 441.5,1100.6 445.6,1099.8 449.7,1099.1 453.7,1098.3 457.8,1097.5 461.9,1096.6 465.9,1095.8 470.0,1094.9 474.1,1094.0 478.2,1093.1 482.2,1092.2 486.3,1091.2 490.4,1090.3 494.4,1089.3 498.5,1088.2 502.6,1087.2 506.6,1086.1 510.7,1085.0 514.8,1083.9 518.8,1082.8 522.9,1081.6 527.0,1080.5 531.0,1079.3 535.1,1078.1 539.2,1076.9 543.2,1075.7 547.3,1074.5 551.4,1073.3 555.5,1072.1 559.5,1070.9 563.6,1069.6 567.7,1068.4 571.7,1067.2 575.8,1066.0 579.9,1064.8 583.9,1063.7 588.0,1062.5 592.1,1061.3 596.1,1060.1 600.2,1059.0 604.3,1057.8 608.3,1056.6 612.4,1055.5 616.5,1054.3 620.6,1053.1 624.6,1051.9 628.7,1050.7 632.8,1049.5 636.8,1048.3 640.9,1047.1 645.0,1045.9 649.0,1044.6 653.1,1043.3 657.2,1042.0 661.2,1040.7 665.3,1039.4 669.4,1038.1 673.4,1036.7 677.5,1035.3 681.6,1033.8 685.6,1032.4 689.7,1030.9 693.8,1029.4 697.9,1027.8 701.9,1026.3 706.0,1024.7 710.1,1023.1 714.1,1021.5 718.2,1019.8 722.3,1018.1 726.3,1016.4 730.4,1014.7 734.5,1013.0 738.5,1011.2 742.6,1009.5 746.7,1007.7 750.7,1005.9 754.8,1004.1 758.9,1002.2 762.9,1000.4 767.0,998.6 771.1,996.7 775.2,994.8 779.2,993.0 783.3,991.1 787.4,989.2 791.4,987.3 795.5,985.3 799.6,983.4 803.6,981.4 807.7,979.4 811.8,977.4 815.8,975.3 819.9,973.3 824.0,971.2 828.0,969.2 832.1,967.1 836.2,965.0 840.2,962.8 844.3,960.7 848.4,958.5 852.5,956.4 856.5,954.2 860.6,952.0 864.7,949.8 868.7,947.5 872.8,945.3 876.9,943.0 880.9,940.8 885.0,938.5 889.1,936.2 893.1,933.9 897.2,931.6 901.3,929.3 905.3,927.0 909.4,924.6 913.5,922.3 917.5,919.9 921.6,917.5 925.7,915.1 929.8,912.6 933.8,910.2 937.9,907.6 942.0,905.1 946.0,902.5 950.1,899.9 954.2,897.3 958.2,894.6 962.3,891.9 966.4,889.2 970.4,886.4 974.5,883.7 978.6,880.8 982.6,878.0 986.7,875.1 990.8,872.2 994.8,869.2 998.9,866.2 1003.0,863.2 1007.1,860.1 1011.1,857.0 1015.2,853.9 1019.3,850.7 1023.3,847.5 1027.4,844.3 1031.5,841.0 1035.5,837.7 1039.6,834.3 1043.7,830.9 1047.7,827.5 1051.8,824.0 1055.9,820.5 1059.9,816.9 1064.0,813.3 1068.1,809.6 1072.1,805.9 1076.2,802.2 1080.3,798.3 1084.4,794.5 1088.4,790.5 1092.5,786.6 1096.6,782.5 1100.6,778.5 1104.7,774.3 1108.8,770.2 1112.8,765.9 1116.9,761.6 1121.0,757.3 1125.0,752.9 1129.1,748.5 1133.2,744.0 1137.2,739.4 1141.3,734.8 1145.4,730.2 1149.4,725.5 1153.5,720.7 1157.6,715.9 1161.7,711.0 1165.7,706.1 1169.8,701.1 1173.9,696.0 1177.9,690.9 1182.0,685.8 1186.1,680.5 1190.1,675.1 1194.2,669.7 1198.3,664.1 1202.3,658.5 1206.4,652.7 1210.5,646.9 1214.5,641.1 1218.6,635.1 1222.7,629.2 1226.7,623.1 1230.8,617.0 1234.9,610.9 1239.0,604.7 1243.0,598.5 1247.1,592.3 1251.2,586.1 1255.2,579.9 1259.3,573.7 1263.4,567.5 1267.4,561.4 1271.5,555.4 1275.6,549.3 1279.6,543.1 1283.7,536.8 1287.8,530.3 1291.8,523.5 1295.9,516.4 1300.0,509.1 1304.1,501.5 1308.1,493.7 1312.2,485.8 1316.3,477.6 1320.3,469.3 1324.4,460.8 1328.5,452.2 1332.5,443.5 1336.6,434.6 1340.7,425.7 1344.7,416.6 1348.8,407.6 1352.9,398.4 1356.9,389.2 1361.0,379.8 1365.1,370.3 1369.1,360.6 1373.2,350.9 1377.3,340.9 1381.4,330.9 1385.4,320.8 1389.5,310.5 1393.6,300.2 1397.6,289.7 1401.7,279.2 1405.8,268.7 1409.8,258.0 1413.9,247.2 1418.0,236.2 1422.0,225.0 1426.1,213.7 1430.2,202.1 1434.2,190.3 1438.3,178.3 1442.4,166.0 1446.4,153.6 1450.5,141.0 1454.6,128.2 1458.7,115.3 1462.7,102.2 1466.8,89.0 1470.9,75.7 1474.9,62.1 1479.0,48.4 1483.1,34.5 1487.1,20.4"/>
<polyline stroke="#00ff00" points="284.9,1128.0 328.6,1121.2 372.4,1114.8 376.4,1114.3 380.5,1113.8 384.6,1113.2 388.6,1112.7 392.7,1112.2 396.8,1111.6 400.9,1111.1 404.9,1110.6 409.0,1110.0 413.1,1109.5 417.1,1108.9 421.2,1108.3 425.3,1107.7 429.3,1107.0 433.4,1106.4 437.5,1105.7 441.5,1105.1 445.6,1104.4 449.7,1103.7 453.7,1103.0 457.8,1102.2 461.9,1101.5 465.9,1100.7 470.0,1100.0 474.1,1099.2 478.2,1098.4 482.2,1097.6 486.3,1096.8 490.4,1096.0 494.4,1095.1 498.5,1094.3 502.6,1093.4 506.6,1092.5 510.7,1091.6 514.8,1090.7 518.8,1089.8 522.9,1088.8 527.0,1087.8 531.0,1086.8 535.1,1085.7 539.2,1084.7 543.2,1083.6 547.3,1082.6 551.4,1081.5 555.5,1080.4 559.5,1079.3 563.6,1078.3 567.7,1077.2 571.7,1076.1 575.8,1075.0 579.9,1073.9 583.9,1072.9 588.0,1071.8 592.1,1070.8 596.1,1069.7 600.2,1068.7 604.3,1067.6 608.3,1066.6 612.4,1065.5 616.5,1064.5 620.6,1063.4 624.6,1062.4 628.7,1061.3 632.8,1060.2 636.8,1059.1 640.9,1058.0 645.0,1056.9 649.0,1055.8 653.1,1054.6 657.2,1053.5 661.2,1052.3 665.3,1051.1 669.4,1049.8 673.4,1048.6 677.5,1047.3 681.6,1046.0 685.6,1044.6 689.7,1043.3 693.8,1041.9 697.9,1040.5 701.9,1039.0 706.0,1037.6 710.1,1036.1 714.1,1034.6 718.2,1033.1 722.3,1031.5 726.3,1029.9 730.4,1028.3 734.5,1026.7 738.5,1025.1 742.6,1023.4 746.7,1021.7 750.7,1020.0 754.8,1018.3 758.9,1016.6 762.9,1014.8 767.0,1013.1 771.1,1011.3 775.2,1009.5 779.2,1007.6 783.3,1005.8 787.4,1003.9 791.4,1002.1 795.5,1000.2 799.6,998.3 803.6,996.4 807.7,994.5 811.8,992.5 815.8,990.6 819.9,988.6 824.0,986.7 828.0,984.7 832.1,982.7 836.2,980.7 840.2,978.7 844.3,976.7 848.4,974.7 852.5,972.7 856.5,970.6 860.6,968.6 864.7,966.6 868.7,964.5 872.8,962.5 876.9,960.5 880.9,958.4 885.0,956.4 889.1,954.4 893.1,952.3 897.2,950.3 901.3,948.3 905.3,946.3 909.4,944.3 913.5,942.3 917.5,940.2 921.6,938.2 925.7,936.1 929.8,934.0 933.8,931.8 937.9,929.6 942.0,927.3 946.0,925.0 950.1,922.6 954.2,920.1 958.2,917.6 962.3,915.0 966.4,912.3 970.4,909.6 974.5,906.9 978.6,904.1 982.6,901.2 986.7,898.3 990.8,895.4 994.8,892.4 998.9,889.4 1003.0,886.4 1007.1,883.3 1011.1,880.3 1015.2,877.2 1019.3,874.0 1023.3,870.9 1027.4,867.7 1031.5,864.5 1035.5,861.2 1039.6,857.9 1043.7,854.5 1047.7,851.2 1051.8,847.7 1055.9,844.2 1059.9,840.7 1064.0,837.1 1068.1,833.4 1072.1,829.7 1076.2,825.9 1080.3,822.0 1084.4,818.1 1088.4,814.1 1092.5,810.0 1096.6,805.8 1100.6,801.5 1104.7,797.2 1108.8,792.7 1112.8,788.3 1116.9,783.7 1121.0,779.1 1125.0,774.4 1129.1,769.7 1133.2,764.9 1137.2,760.1 1141.3,755.2 1145.4,750.3 1149.4,745.3 1153.5,740.3 1157.6,735.3 1161.7,730.2 1165.7,725.1 1169.8,720.0 1173.9,714.9 1177.9,709.8 1182.0,704.7 1186.1,699.6 1190.1,694.4 1194.2,689.2 1198.3,684.0 1202.3,678.8 1206.4,673.5 1210.5,668.2 1214.5,662.9 1218.6,657.5 1222.7,652.0 1226.7,646.5 1230.8,641.0 1234.9,635.4 1239.0,629.7 1243.0,623.9 1247.1,618.1 1251.2,612.2 1255.2,606.2 1259.3,600.1 1263.4,593.9 1267.4,587.7 1271.5,581.4 1275.6,575.0 1279.6,568.5 1283.7,562.0 1287.8,555.3 1291.8,548.5 1295.9,541.5 1300.0,534.4 1304.1,527.1 1308.1,519.5 1312.2,511.8 1316.3,503.9 1320.3,495.7 1324.4,487.4 1328.5,478.9 1332.5,470.2 1336.6,461.3 1340.7,452.3 1344.7,443.2 1348.8,433.9 1352.9,424.5 1356.9,415.0 1361.0,405.4 1365.1,395.8 1369.1,385.9 1373.2,375.9 1377.3,365.7 1381.4,355.4 1385.4,344.9 1389.5,334.3 1393.6,323.6 1397.6,312.8 1401.7,301.9 1405.8,290.9 1409.8,279.9 1413.9,268.8 1418.0,257.6 1422.0,246.2 1426.1,234.7 1430.2,223.0 1434.2,211.0 1438.3,198.9 1442.4,186.5 1446.4,173.9 1450.5,161.0 1454.6,148.0 1458.7,134.9 1462.7,121.7 1466.8,108.2 1470.9,94.5 1474.9,80.7 1479.0,66.6 1483.1,52.4 1487.1,37.9"/>
<polyline stroke="#0000ff" points="284.9,1130.0 328.6,1123.7 372.4,1118.2 376.4,1117.7 380.5,1117.3 384.6,1116.8 388.6,1116.4 392.7,1115.9 396.8,1115.5 400.9,1115.0 404.9,1114.5 409.0,1114.1 413.1,1113.6 417.1,1113.0 421.2,1112.5 425.3,1112.0 429.3,1111.4 433.4,1110.8 437.5,1110.2 441.5,1109.6 445.6,1109.0 449.7,1108.3 453.7,1107.6 457.8,1107.0 461.9,1106.3 465.9,1105.6 470.0,1104.8 474.1,1104.1 478.2,1103.4 482.2,1102.6 486.3,1101.8 490.4,1101.0 494.4,1100.2 498.5,1099.4 502.6,1098.6 506.6,1097.8 510.7,1097.0 514.8,1096.1 518.8,1095.2 522.9,1094.4 527.0,1093.5 531.0,1092.6 535.1,1091.7 539.2,1090.8 543.2,1089.8 547.3,1088.8 551.4,1087.7 555.5,1086.7 559.5,1085.6 563.6,1084.6 567.7,1083.5 571.7,1082.4 575.8,1081.4 579.9,1080.3 583.9,1079.3 588.0,1078.3 592.1,1077.3 596.1,1076.3 600.2,1075.3 604.3,1074.3 608.3,1073.3 612.4,1072.3 616.5,1071.3 620.6,1070.2 624.6,1069.2 628.7,1068.2 632.8,1067.2 636.8,1066.2 640.9,1065.1 645.0,1064.1 649.0,1063.0 653.1,1061.9 657.2,1060.8 661.2,1059.7 665.3,1058.5 669.4,1057.4 673.4,1056.2 677.5,1055.0 681.6,1053.7 685.6,1052.4 689.7,1051.2 693.8,1049.9 697.9,1048.5 701.9,1047.2 706.0,1045.8 710.1,1044.4 714.1,1043.0 718.2,1041.6 722.3,1040.2 726.3,1038.7 730.4,1037.2 734.5,1035.7 738.5,1034.2 742.6,1032.7 746.7,1031.1 750.7,1029.5 754.8,1028.0 758.9,1026.4 762.9,1024.7 767.0,1023.1 771.1,1021.5 775.2,1019.8 779.2,1018.1 783.3,1016.4 787.4,1014.7 791.4,1013.0 795.5,1011.2 799.6,1009.5 803.6,1007.7 807.7,1005.9 811.8,1004.1 815.8,1002.3 819.9,1000.5 824.0,998.7 828.0,996.8 832.1,995.0 836.2,993.1 840.2,991.2 844.3,989.3 848.4,987.4 852.5,985.5 856.5,983.6 860.6,981.7 864.7,979.8 868.7,977.8 872.8,975.9 876.9,973.9 880.9,972.0 885.0,970.0 889.1,968.1 893.1,966.1 897.2,964.1 901.3,962.1 905.3,960.1 909.4,958.1 913.5,956.1 917.5,954.0 921.6,951.9 925.7,949.8 929.8,947.7 933.8,945.5 937.9,943.3 942.0,941.0 946.0,938.7 950.1,936.3 954.2,933.9 958.2,931.4 962.3,928.8 966.4,926.2 970.4,923.6 974.5,920.9 978.6,918.2 982.6,915.4 986.7,912.6 990.8,909.7 994.8,906.9 998.9,904.0 1003.0,901.1 1007.1,898.1 1011.1,895.2 1015.2,892.2 1019.3,889.3 1023.3,886.3 1027.4,883.3 1031.5,880.3 1035.5,877.2 1039.6,874.1 1043.7,871.0 1047.7,867.8 1051.8,864.6 1055.9,861.4 1059.9,858.0 1064.0,854.6 1068.1,851.1 1072.1,847.6 1076.2,844.0 1080.3,840.2 1084.4,836.4 1088.4,832.5 1092.5,828.4 1096.6,824.2 1100.6,820.0 1104.7,815.6 1108.8,811.1 1112.8,806.6 1116.9,802.0 1121.0,797.3 1125.0,792.5 1129.1,787.6 1133.2,782.7 1137.2,777.8 1141.3,772.8 1145.4,767.8 1149.4,762.7 1153.5,757.6 1157.6,752.5 1161.7,747.4 1165.7,742.3 1169.8,737.1 1173.9,732.0 1177.9,727.0 1182.0,721.9 1186.1,716.9 1190.1,711.9 1194.2,706.9 1198.3,701.8 1202.3,696.8 1206.4,691.8 1210.5,686.7 1214.5,681.6 1218.6,676.4 1222.7,671.3 1226.7,666.0 1230.8,660.7 1234.9,655.4 1239.0,650.0 1243.0,644.5 1247.1,638.9 1251.2,633.2 1255.2,627.4 1259.3,621.4 1263.4,615.4 1267.4,609.4 1271.5,603.2 1275.6,597.1 1279.6,590.8 1283.7,584.4 1287.8,578.0 1291.8,571.4 1295.9,564.6 1300.0,557.7 1304.1,550.7 1308.1,543.4 1312.2,536.0 1316.3,528.3 1320.3,520.4 1324.4,512.1 1328.5,503.5 1332.5,494.5 1336.6,485.2 1340.7,475.7 1344.7,465.9 1348.8,456.0 1352.9,445.9 1356.9,435.6 1361.0,425.3 1365.1,414.9 1369.1,404.5 1373.2,394.2 1377.3,383.8 1381.4,373.3 1385.4,362.6 1389.5,351.9 1393.6,341.0 1397.6,330.0 1401.7,319.0 1405.8,308.1 1409.8,297.0 1413.9,285.9 1418.0,274.6 1422.0,263.1 1426.1,251.4 1430.2,239.5 1434.2,227.3 1438.3,214.8 1442.4,202.1 1446.4,189.0 1450.5,175.6 1454.6,161.9 1458.7,148.2 1462.7,134.2 1466.8,120.0 1470.9,105.7 1474.9,91.1 1479.0,76.4 1483.1,61.5 1487.1,46.3"/>
<polyline stroke="#00ffff" points="284.9,1133.9 328.6,1128.7 372.4,1123.3 376.4,1122.7 380.5,1122.2 384.6,1121.7 388.6,1121.2 392.7,1120.6 396.8,1120.1 400.9,1119.6 404.9,1119.0 409.0,1118.5 413.1,1118.0 417.1,1117.4 421.2,1116.8 425.3,1116.3 429.3,1115.7 433.4,1115.2 437.5,1114.6 441.5,1114.0 445.6,1113.4 449.7,1112.9 453.7,1112.3 457.8,1111.7 461.9,1111.1 465.9,1110.5 470.0,1109.9 474.1,1109.3 478.2,1108.7 482.2,1108.1 486.3,1107.5 490.4,1106.9 494.4,1106.3 498.5,1105.6 502.6,1105.0 506.6,1104.4 510.7,1103.7 514.8,1103.1 518.8,1102.4 522.9,1101.7 527.0,1101.1 531.0,1100.4 535.1,1099.7 539.2,1099.0 543.2,1098.3 547.3,1097.6 551.4,1096.9 555.5,1096.1 559.5,1095.4 563.6,1094.6 567.7,1093.9 571.7,1093.1 575.8,1092.3 579.9,1091.5 583.9,1090.7 588.0,1089.9 592.1,1089.1 596.1,1088.2 600.2,1087.3 604.3,1086.5 608.3,1085.6 612.4,1084.7 616.5,1083.8 620.6,1082.8 624.6,1081.9 628.7,1080.9 632.8,1080.0 636.8,1079.0 640.9,1078.0 645.0,1077.0 649.0,1076.0 653.1,1074.9 657.2,1073.9 661.2,1072.8 665.3,1071.8 669.4,1070.7 673.4,1069.6 677.5,1068.5 681.6,1067.4 685.6,1066.2 689.7,1065.1 693.8,1063.9 697.9,1062.7 701.9,1061.5 706.0,1060.3 710.1,1059.1 714.1,1057.8 718.2,1056.6 722.3,1055.3 726.3,1054.0 730.4,1052.7 734.5,1051.4 738.5,1050.0 742.6,1048.7 746.7,1047.3 750.7,1045.9 754.8,1044.5 758.9,1043.1 762.9,1041.7 767.0,1040.3 771.1,1038.8 775.2,1037.3 779.2,1035.9 783.3,1034.4 787.4,1032.8 791.4,1031.3 795.5,1029.8 799.6,1028.2 803.6,1026.7 807.7,1025.1 811.8,1023.5 815.8,1021.9 819.9,1020.2 824.0,1018.6 828.0,1017.0 832.1,1015.3 836.2,1013.6 840.2,1011.9 844.3,1010.2 848.4,1008.5 852.5,1006.8 856.5,1005.0 860.6,1003.3 864.7,1001.5 868.7,999.7 872.8,997.9 876.9,996.1 880.9,994.3 885.0,992.5 889.1,990.6 893.1,988.8 897.2,986.9 901.3,984.9 905.3,983.0 909.4,981.0 913.5,978.9 917.5,976.9 921.6,974.8 925.7,972.7 929.8,970.5 933.8,968.4 937.9,966.2 942.0,964.0 946.0,961.8 950.1,959.5 954.2,957.3 958.2,955.0 962.3,952.8 966.4,950.5 970.4,948.1 974.5,945.8 978.6,943.4 982.6,941.0 986.7,938.6 990.8,936.1 994.8,933.5 998.9,931.0 1003.0,928.3 1007.1,925.7 1011.1,922.9 1015.2,920.2 1019.3,917.3 1023.3,914.5 1027.4,911.6 1031.5,908.6 1035.5,905.6 1039.6,902.5 1043.7,899.4 1047.7,896.2 1051.8,893.0 1055.9,889.7 1059.9,886.4 1064.0,883.0 1068.1,879.5 1072.1,876.0 1076.2,872.4 1080.3,868.7 1084.4,865.0 1088.4,861.2 1092.5,857.2 1096.6,853.2 1100.6,849.1 1104.7,844.9 1108.8,840.6 1112.8,836.2 1116.9,831.8 1121.0,827.3 1125.0,822.7 1129.1,818.1 1133.2,813.4 1137.2,808.7 1141.3,803.9 1145.4,799.0 1149.4,794.1 1153.5,789.2 1157.6,784.3 1161.7,779.3 1165.7,774.3 1169.8,769.3 1173.9,764.3 1177.9,759.3 1182.0,754.2 1186.1,749.2 1190.1,744.2 1194.2,739.1 1198.3,734.0 1202.3,728.9 1206.4,723.8 1210.5,718.6 1214.5,713.4 1218.6,708.1 1222.7,702.8 1226.7,697.4 1230.8,691.9 1234.9,686.4 1239.0,680.8 1243.0,675.2 1247.1,669.4 1251.2,663.6 1255.2,657.6 1259.3,651.6 1263.4,645.4 1267.4,639.2 1271.5,633.0 1275.6,626.6 1279.6,620.2 1283.7,613.7 1287.8,607.1 1291.8,600.5 1295.9,593.7 1300.0,586.8 1304.1,579.8 1308.1,572.6 1312.2,565.3 1316.3,557.9 1320.3,550.3 1324.4,542.6 1328.5,534.7 1332.5,526.6 1336.6,518.3 1340.7,509.6 1344.7,500.6 1348.8,491.2 1352.9,481.6 1356.9,471.9 1361.0,462.0 1365.1,452.1 1369.1,442.2 1373.2,432.5 1377.3,422.9 1381.4,413.7 1385.4,404.2 1389.5,393.9 1393.6,383.0 1397.6,371.5 1401.7,359.6 1405.8,347.5 1409.8,335.4 1413.9,323.4 1418.0,311.5 1422.0,299.7 1426.1,288.0 1430.2,276.2 1434.2,264.3 1438.3,252.2 1442.4,239.9 1446.4,227.4 1450.5,214.6 1454.6,201.3 1458.7,187.5 1462.7,173.5 1466.8,159.2 1470.9,144.6 1474.9,129.7 1479.0,114.5 1483.1,98.9 1487.1,83.1"/>
</g>
<line x1="1511.4" y1="707.6" x2="1390.3" y2="425.0" stroke="#a59d14" stroke-width="8.8" stroke-dasharray="9 8.58"/>
<polygon fill="#a59d14" points="1376.1,391.9 1376.0,445.0 1390.3,425.0 1414.6,428.5"/>
<line x1="1513.0" y1="1101.6" x2="1410.0" y2="1090.6" stroke="#a59d14" stroke-width="8.8" stroke-dasharray="9 8.6"/>
<polygon fill="#a59d14" points="1376.2,1087.0 1422.5,1113.1 1410.0,1090.6 1426.9,1071.3"/>
<text transform="translate(412.8,973.5) scale(1.0,1)" font-size="63.5" text-anchor="end">0.06</text>
<text transform="translate(412.8,829.5) scale(1.0,1)" font-size="63.5" text-anchor="end">0.08</text>
<text transform="translate(412.8,685.5) scale(1.0,1)" font-size="63.5" text-anchor="end">0.10</text>
<text transform="translate(412.8,541.5) scale(1.0,1)" font-size="63.5" text-anchor="end">0.12</text>
<text transform="translate(461.0,1147.5) scale(1.0,1)" font-size="63.5" text-anchor="middle">0.020</text>
<text transform="translate(815.5,1147.5) scale(1.0,1)" font-size="63.5" text-anchor="middle">0.022</text>
<text transform="translate(1170.0,1147.5) scale(1.0,1)" font-size="63.5" text-anchor="middle">0.024</text>
</svg></body></html>
